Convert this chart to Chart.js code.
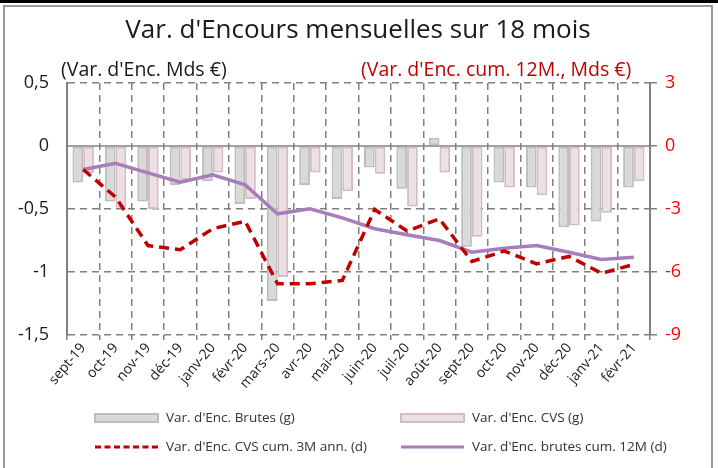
<!DOCTYPE html>
<html>
<head>
<meta charset="utf-8">
<script src="https://cdn.jsdelivr.net/npm/chart.js@4"></script>
<style>
  html, body { margin: 0; padding: 0; background: #fff; }
  #wrap { width: 718px; height: 468px; position: relative; }
</style>
</head>
<body>
<div id="wrap"><canvas id="chart" width="718" height="468"></canvas></div>
<script>
const months = ['sept-19','oct-19','nov-19','déc-19','janv-20','févr-20','mars-20','avr-20','mai-20',
  'juin-20','juil-20','août-20','sept-20','oct-20','nov-20','déc-20','janv-21','févr-21'];

// left axis, Mds €
const brutes = [-0.29,-0.44,-0.44,-0.31,-0.28,-0.46,-1.23,-0.31,-0.42,-0.17,-0.34,0.065,-0.80,-0.29,-0.33,-0.645,-0.60,-0.33];
const cvs    = [-0.215,-0.49,-0.50,-0.27,-0.21,-0.42,-1.04,-0.21,-0.36,-0.22,-0.48,-0.21,-0.72,-0.33,-0.39,-0.63,-0.53,-0.28];

// right axis, Mds €
const cvsCum3M   = [-1.12,-2.43,-4.74,-4.94,-3.94,-3.58,-6.56,-6.56,-6.4,-3.02,-4.05,-3.47,-5.5,-5.0,-5.61,-5.26,-6.06,-5.64];
const brutesCum12M = [-1.12,-0.82,-1.28,-1.72,-1.37,-1.85,-3.23,-2.99,-3.42,-3.94,-4.23,-4.5,-5.06,-4.87,-4.74,-5.06,-5.4,-5.3];

const leftTicks = [0.5, 0, -0.5, -1, -1.5];
const rightTicks = [3, 0, -3, -6, -9];

const FONT = '"Open Sans", Lato, sans-serif';
const GRID = '#808080';

const frame = {
  id: 'frame',
  beforeDraw(c) {
    const g = c.ctx;
    g.save();
    g.fillStyle = '#fff';
    g.fillRect(0, 0, c.width, c.height);
    g.fillStyle = '#000';
    g.fillRect(0, 0, 718, 3);
    g.strokeStyle = '#9a9a9a';
    g.lineWidth = 2;
    g.beginPath();
    g.moveTo(4, 470); g.lineTo(4, 6); g.lineTo(712, 6); g.lineTo(712, 470);
    g.stroke();

    // title
    g.fillStyle = '#1a1a1a';
    g.font = '26px ' + FONT;
    g.textAlign = 'center';
    g.textBaseline = 'middle';
    g.fillText("Var. d'Encours mensuelles sur 18 mois", 358, 31);

    // axis titles
    g.font = '19.5px ' + FONT;
    g.textAlign = 'left';
    g.fillText("(Var. d'Enc. Mds €)", 61, 70);
    g.fillStyle = '#c00000';
    g.fillText("(Var. d'Enc. cum. 12M., Mds €)", 361, 70);
    g.restore();
  },
  beforeDatasetsDraw(c) {
    const g = c.ctx, y = c.scales.y, a = c.chartArea;
    const y0 = y.getPixelForValue(0);
    g.save();
    g.strokeStyle = GRID;
    g.lineWidth = 1.5;
    g.beginPath();
    g.moveTo(a.left, y0); g.lineTo(a.right, y0);
    g.stroke();
    g.restore();
  },
  afterDraw(c) {
    const g = c.ctx;
    const ds = c.data.datasets;
    const items = [
      { d: ds[0], x: 95, y: 418 },
      { d: ds[1], x: 401, y: 418 },
      { d: ds[2], x: 95, y: 447 },
      { d: ds[3], x: 401, y: 447 }
    ];
    g.save();
    g.font = '13.5px ' + FONT;
    g.textBaseline = 'middle';
    g.textAlign = 'left';
    items.forEach(it => {
      const d = it.d;
      if (d.type === 'line') {
        g.strokeStyle = d.borderColor;
        g.lineWidth = 3;
        g.setLineDash(d.borderDash ? [6, 3.5] : []);
        g.beginPath();
        g.moveTo(it.x, it.y); g.lineTo(it.x + 63, it.y);
        g.stroke();
        g.setLineDash([]);
      } else {
        g.fillStyle = d.backgroundColor;
        g.strokeStyle = d.borderColor;
        g.lineWidth = 2;
        g.fillRect(it.x, it.y - 4, 63, 8);
        g.strokeRect(it.x, it.y - 4, 63, 8);
      }
      g.fillStyle = '#333';
      g.fillText(d.label, it.x + 71, it.y);
    });
    g.restore();
  }
};

new Chart(document.getElementById('chart'), {
  data: {
    labels: months,
    datasets: [
      { type: 'bar', label: "Var. d'Enc. Brutes (g)", data: brutes, yAxisID: 'y',
        backgroundColor: '#d9d9d9', borderColor: '#bdbdbd', borderWidth: 2, borderSkipped: false,
        categoryPercentage: 0.66, barPercentage: 1.0, order: 3 },
      { type: 'bar', label: "Var. d'Enc. CVS (g)", data: cvs, yAxisID: 'y',
        backgroundColor: '#ece0e4', borderColor: '#d3bcc3', borderWidth: 2, borderSkipped: false,
        categoryPercentage: 0.66, barPercentage: 1.0, order: 3 },
      { type: 'line', label: "Var. d'Enc. CVS cum. 3M ann. (d)", data: cvsCum3M, yAxisID: 'y2',
        borderColor: '#c00000', borderWidth: 3.5, borderDash: [10, 6], pointRadius: 0,
        tension: 0, fill: false, order: 1 },
      { type: 'line', label: "Var. d'Enc. brutes cum. 12M (d)", data: brutesCum12M, yAxisID: 'y2',
        borderColor: '#a77dbb', borderWidth: 3.5, pointRadius: 0,
        tension: 0, fill: false, order: 2 }
    ]
  },
  options: {
    responsive: false,
    animation: false,
    layout: { padding: { top: 83, left: 0, right: 0, bottom: 0 } },
    plugins: { legend: { display: false }, title: { display: false }, tooltip: { enabled: false } },
    scales: {
      x: {
        offset: true,
        grid: { offset: true, color: GRID, lineWidth: 1.5, tickLength: 5 },
        border: { display: false, dash: [7, 5] },
        ticks: { autoSkip: false, maxRotation: 50, minRotation: 50, color: '#1a1a1a',
          font: { family: FONT, size: 14 }, padding: 0 },
        afterFit(s) { s.height = 133; }
      },
      y: {
        position: 'left',
        min: -1.5, max: 0.5,
        afterBuildTicks(s) { s.ticks = leftTicks.map(v => ({ value: v })); },
        grid: { color: ctx => ctx.tick && ctx.tick.value === 0 ? 'rgba(0,0,0,0)' : GRID,
          lineWidth: 1.5, drawTicks: false },
        border: { display: true, color: GRID, width: 2, dash: [7, 5] },
        ticks: { color: '#1a1a1a', font: { family: FONT, size: 18 }, padding: 18,
          callback: v => String(v).replace('.', ',') },
        afterFit(s) { s.width = 67; }
      },
      y2: {
        position: 'right',
        min: -9, max: 3,
        afterBuildTicks(s) { s.ticks = rightTicks.map(v => ({ value: v })); },
        grid: { drawOnChartArea: false, color: GRID, lineWidth: 1.5, tickLength: 7 },
        border: { display: true, color: GRID, width: 2 },
        ticks: { color: '#ff0000', font: { family: FONT, size: 18 }, padding: 8 },
        afterFit(s) { s.width = 68; }
      }
    }
  },
  plugins: [frame]
});
</script>
</body>
</html>
